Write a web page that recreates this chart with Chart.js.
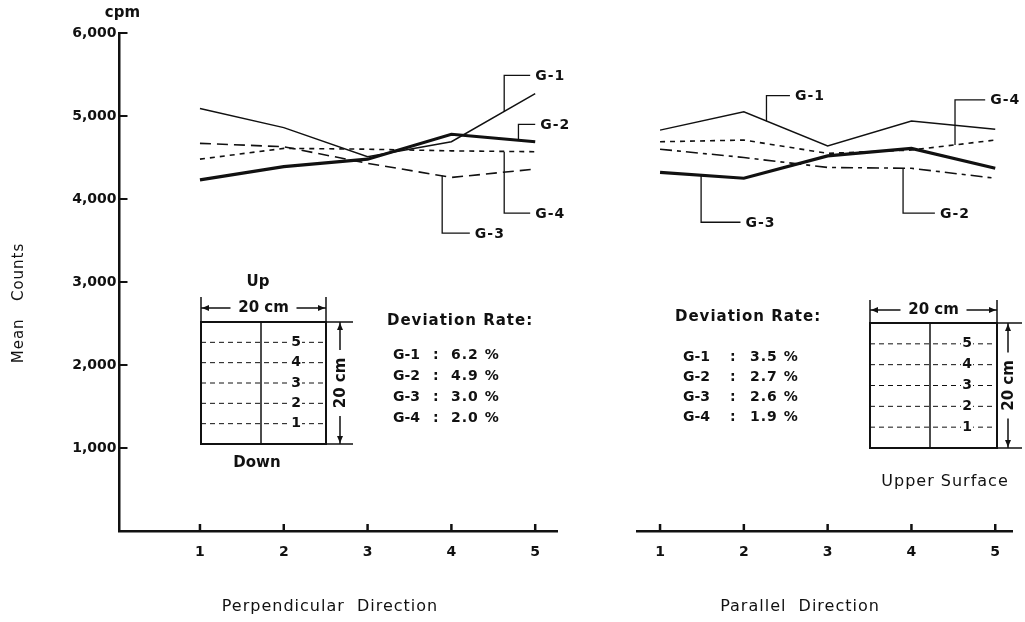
<!DOCTYPE html>
<html>
<head>
<meta charset="utf-8">
<script src="https://cdn.jsdelivr.net/npm/chart.js@4.4.1/dist/chart.umd.min.js"></script>
<style>
  html, body { margin: 0; padding: 0; background: #fff; }
  #wrap { position: relative; width: 1025px; height: 622px; }
  #wrap canvas { position: absolute; left: 0; top: 0; }
</style>
</head>
<body>
<div id="wrap">
  <canvas id="perp" width="1025" height="622"></canvas>
  <canvas id="para" width="1025" height="622"></canvas>
</div>
<script>
const positions = [1, 2, 3, 4, 5];
const groups = ['G-1', 'G-2', 'G-3', 'G-4'];
const countTicks = [0, 1000, 2000, 3000, 4000, 5000, 6000];

// Perpendicular direction, mean counts (cpm)
const perpG1 = [5090, 4860, 4510, 4690, 5270];
const perpG2 = [4230, 4390, 4480, 4780, 4690];
const perpG3 = [4670, 4630, 4430, 4260, 4360];
const perpG4 = [4480, 4610, 4600, 4580, 4570];
const perpRates = ['6.2 %', '4.9 %', '3.0 %', '2.0 %'];

// Parallel direction, mean counts (cpm)
const paraG1 = [4830, 5050, 4640, 4940, 4840];
const paraG2 = [4600, 4500, 4380, 4370, 4250];
const paraG3 = [4320, 4250, 4520, 4610, 4370];
const paraG4 = [4690, 4710, 4550, 4590, 4710];
const paraRates = ['3.5 %', '2.7 %', '2.6 %', '1.9 %'];

const FONT = "'DejaVu Sans', sans-serif";
const INK = '#111';

// line look per group
const perpStyles = [
  { width: 1.5, dash: [] },
  { width: 3.2, dash: [] },
  { width: 1.6, dash: [11, 6] },
  { width: 1.6, dash: [5, 5] },
];
const paraStyles = [
  { width: 1.5, dash: [] },
  { width: 1.6, dash: [12, 5, 4, 5] },
  { width: 3.2, dash: [] },
  { width: 1.6, dash: [5, 5] },
];

// label leaders, in data units (position, cpm)
const perpCallouts = [
  { text: 'G-1', path: [[4.63, 5050], [4.63, 5490], [4.94, 5490]] },
  { text: 'G-2', path: [[4.80, 4705], [4.80, 4900], [5.00, 4900]] },
  { text: 'G-4', path: [[4.63, 4570], [4.63, 3830], [4.94, 3830]] },
  { text: 'G-3', path: [[3.89, 4280], [3.89, 3590], [4.22, 3590]] },
];
const paraCallouts = [
  { text: 'G-1', path: [[2.27, 4937], [2.27, 5245], [2.55, 5245]] },
  { text: 'G-4', path: [[4.52, 4652], [4.52, 5195], [4.88, 5195]] },
  { text: 'G-3', path: [[1.49, 4288], [1.49, 3720], [1.96, 3720]] },
  { text: 'G-2', path: [[3.90, 4373], [3.90, 3830], [4.28, 3830]] },
];

function makeSets(series, styles) {
  return series.map((vals, i) => ({
    label: groups[i],
    data: positions.map((x, j) => ({ x, y: vals[j] })),
    borderColor: INK,
    borderWidth: styles[i].width,
    borderDash: styles[i].dash,
    pointRadius: 0,
    tension: 0,
    fill: false,
  }));
}

// -- drawing helpers --

function text(ctx, str, x, y, size, opts = {}) {
  ctx.save();
  ctx.font = `${opts.weight || 'normal'} ${size}px ${FONT}`;
  ctx.fillStyle = INK;
  ctx.textAlign = opts.align || 'left';
  ctx.textBaseline = 'middle';
  ctx.letterSpacing = opts.spacing || '0px';
  if (opts.rotate) {
    ctx.translate(x, y);
    ctx.rotate(opts.rotate);
    ctx.fillText(str, 0, 0);
  } else {
    ctx.fillText(str, x, y);
  }
  ctx.restore();
}

function arrowHead(ctx, x, y, dx, dy) {
  const len = 7, half = 3;
  ctx.beginPath();
  ctx.moveTo(x, y);
  ctx.lineTo(x - dx * len - dy * half, y - dy * len + dx * half);
  ctx.lineTo(x - dx * len + dy * half, y - dy * len - dx * half);
  ctx.closePath();
  ctx.fill();
}

function drawSpecimen(ctx, s) {
  const { L, T, R, B } = s;
  ctx.save();
  ctx.strokeStyle = INK;
  ctx.fillStyle = INK;

  // dashed layer lines with numbers
  ctx.lineWidth = 1;
  ctx.setLineDash([5, 4]);
  for (let k = 1; k <= 5; k++) {
    const y = T + (B - T) * k / 6;
    ctx.beginPath(); ctx.moveTo(L, y); ctx.lineTo(R, y); ctx.stroke();
  }
  ctx.setLineDash([]);
  for (let k = 1; k <= 5; k++) {
    const y = T + (B - T) * k / 6;
    ctx.fillStyle = '#fff';
    ctx.fillRect(s.labelX - 6, y - 7, 12, 14);
    ctx.fillStyle = INK;
    text(ctx, String(6 - k), s.labelX, y, 14, { align: 'center', weight: 'bold' });
  }

  // outline and centre divider
  ctx.lineWidth = 2;
  ctx.strokeRect(L, T, R - L, B - T);
  ctx.lineWidth = 1.5;
  ctx.beginPath(); ctx.moveTo(s.split, T); ctx.lineTo(s.split, B); ctx.stroke();

  // top dimension
  ctx.lineWidth = 1.5;
  ctx.beginPath();
  ctx.moveTo(L, s.extTop); ctx.lineTo(L, T);
  ctx.moveTo(R, s.extTop); ctx.lineTo(R, T);
  ctx.moveTo(L, s.topY); ctx.lineTo(R, s.topY);
  ctx.stroke();
  arrowHead(ctx, L + 1, s.topY, -1, 0);
  arrowHead(ctx, R - 1, s.topY, 1, 0);
  const cx = (L + R) / 2;
  ctx.fillStyle = '#fff';
  ctx.fillRect(cx - 33, s.topY - 9, 66, 18);
  ctx.fillStyle = INK;
  text(ctx, '20 cm', cx, s.topY, 15, { align: 'center', weight: 'bold' });

  // side dimension
  ctx.beginPath();
  ctx.moveTo(R, T); ctx.lineTo(s.extRight, T);
  ctx.moveTo(R, B); ctx.lineTo(s.extRight, B);
  ctx.moveTo(s.sideX, T); ctx.lineTo(s.sideX, B);
  ctx.stroke();
  arrowHead(ctx, s.sideX, T + 1, 0, -1);
  arrowHead(ctx, s.sideX, B - 1, 0, 1);
  const cy = (T + B) / 2;
  ctx.fillStyle = '#fff';
  ctx.fillRect(s.sideX - 9, cy - 33, 18, 66);
  ctx.fillStyle = INK;
  text(ctx, '20 cm', s.sideX + 1, cy, 15, { align: 'center', weight: 'bold', rotate: -Math.PI / 2 });
  ctx.restore();
}

function drawRates(ctx, r, rates) {
  text(ctx, 'Deviation Rate:', r.x, r.y, 15, { weight: 'bold', spacing: '1px' });
  groups.forEach((g, i) => {
    const y = r.rowY + i * r.rowGap;
    text(ctx, g, r.gx, y, 14, { weight: 'bold' });
    text(ctx, ':', r.colonX, y, 14, { weight: 'bold' });
    text(ctx, rates[i], r.valueX, y, 14, { weight: 'bold', spacing: '1px' });
  });
}

function paperPlugin(cfg) {
  return {
    id: 'paper',
    afterDraw(chart) {
      const { ctx, chartArea: a, scales: { x, y } } = chart;
      ctx.save();
      ctx.strokeStyle = INK;

      // inward tick marks
      ctx.lineWidth = 2.5;
      positions.forEach(p => {
        const px = x.getPixelForValue(p);
        ctx.beginPath(); ctx.moveTo(px, a.bottom); ctx.lineTo(px, a.bottom - 7); ctx.stroke();
      });
      if (cfg.yTicks) {
        ctx.lineWidth = 2;
        countTicks.slice(1).forEach(v => {
          const py = y.getPixelForValue(v);
          ctx.beginPath(); ctx.moveTo(a.left, py); ctx.lineTo(a.left + 8, py); ctx.stroke();
        });
        text(ctx, 'cpm', a.left + 3, 13, 15, { align: 'center', weight: 'bold' });
        text(ctx, 'Mean   Counts', 19, 303, 15, { align: 'center', rotate: -Math.PI / 2, spacing: '1px' });
      }

      // leaders to the curves
      ctx.lineWidth = 1.3;
      cfg.callouts.forEach(c => {
        const pts = c.path.map(([px, py]) => [x.getPixelForValue(px), y.getPixelForValue(py)]);
        ctx.beginPath();
        pts.forEach(([px, py], i) => (i ? ctx.lineTo(px, py) : ctx.moveTo(px, py)));
        ctx.stroke();
        const [ex, ey] = pts[pts.length - 1];
        text(ctx, c.text, ex + 5, ey + 1, 14, { weight: 'bold', spacing: '1px' });
      });

      text(ctx, cfg.title, cfg.titleX, 607, 16, { align: 'center', spacing: '1px' });
      drawSpecimen(ctx, cfg.specimen);
      drawRates(ctx, cfg.rates, cfg.rateValues);
      if (cfg.extra) cfg.extra(ctx);
      ctx.restore();
    }
  };
}

const tickFont = { family: FONT, size: 14, weight: 'bold' };

function xScale(min, max) {
  return {
    type: 'linear',
    min, max,
    afterBuildTicks: s => { s.ticks = positions.map(v => ({ value: v })); },
    afterFit: s => { s.height = 91; },
    ticks: { color: INK, font: tickFont, padding: 13, callback: v => String(v) },
    grid: { drawOnChartArea: false, drawTicks: false },
    border: { color: INK, width: 2.5 },
  };
}

function yScale(show) {
  return {
    min: 0, max: 6000,
    display: show,
    afterBuildTicks: s => { s.ticks = countTicks.map(v => ({ value: v })); },
    afterFit: s => { s.width = show ? 119.5 : 0; },
    ticks: { color: INK, font: tickFont, padding: 3, callback: v => (v ? v.toLocaleString('en-US') : '') },
    grid: { drawOnChartArea: false, drawTicks: false },
    border: { color: INK, width: 2.5 },
  };
}

const baseOptions = {
  responsive: false,
  animation: false,
  plugins: { legend: { display: false }, tooltip: { enabled: false } },
};

new Chart(document.getElementById('perp'), {
  type: 'line',
  data: { datasets: makeSets([perpG1, perpG2, perpG3, perpG4], perpStyles) },
  options: {
    ...baseOptions,
    layout: { padding: { top: 33, right: 468, bottom: 0, left: 0 } },
    scales: { x: xScale(0.04, 5.26), y: yScale(true) },
  },
  plugins: [paperPlugin({
    yTicks: true,
    callouts: perpCallouts,
    title: 'Perpendicular  Direction',
    titleX: 330,
    specimen: { L: 201, T: 322, R: 326, B: 444, split: 261, labelX: 296, topY: 308, extTop: 297, sideX: 340, extRight: 353 },
    rates: { x: 387, y: 321, gx: 393, colonX: 433, valueX: 451, rowY: 355, rowGap: 21 },
    rateValues: perpRates,
    extra: ctx => {
      text(ctx, 'Up', 258, 282, 15, { align: 'center', weight: 'bold' });
      text(ctx, 'Down', 257, 463, 15, { align: 'center', weight: 'bold' });
    },
  })],
});

new Chart(document.getElementById('para'), {
  type: 'line',
  data: { datasets: makeSets([paraG1, paraG2, paraG3, paraG4], paraStyles) },
  options: {
    ...baseOptions,
    layout: { padding: { top: 33, right: 13, bottom: 0, left: 637 } },
    scales: { x: xScale(0.725, 5.2), y: yScale(false) },
  },
  plugins: [paperPlugin({
    yTicks: false,
    callouts: paraCallouts,
    title: 'Parallel  Direction',
    titleX: 800,
    specimen: { L: 870, T: 323, R: 997, B: 448, split: 930, labelX: 967, topY: 310, extTop: 300, sideX: 1008, extRight: 1022 },
    rates: { x: 675, y: 317, gx: 683, colonX: 730, valueX: 750, rowY: 357, rowGap: 20 },
    rateValues: paraRates,
    extra: ctx => {
      text(ctx, 'Upper Surface', 945, 482, 16, { align: 'center', spacing: '1px' });
    },
  })],
});
</script>
</body>
</html>
